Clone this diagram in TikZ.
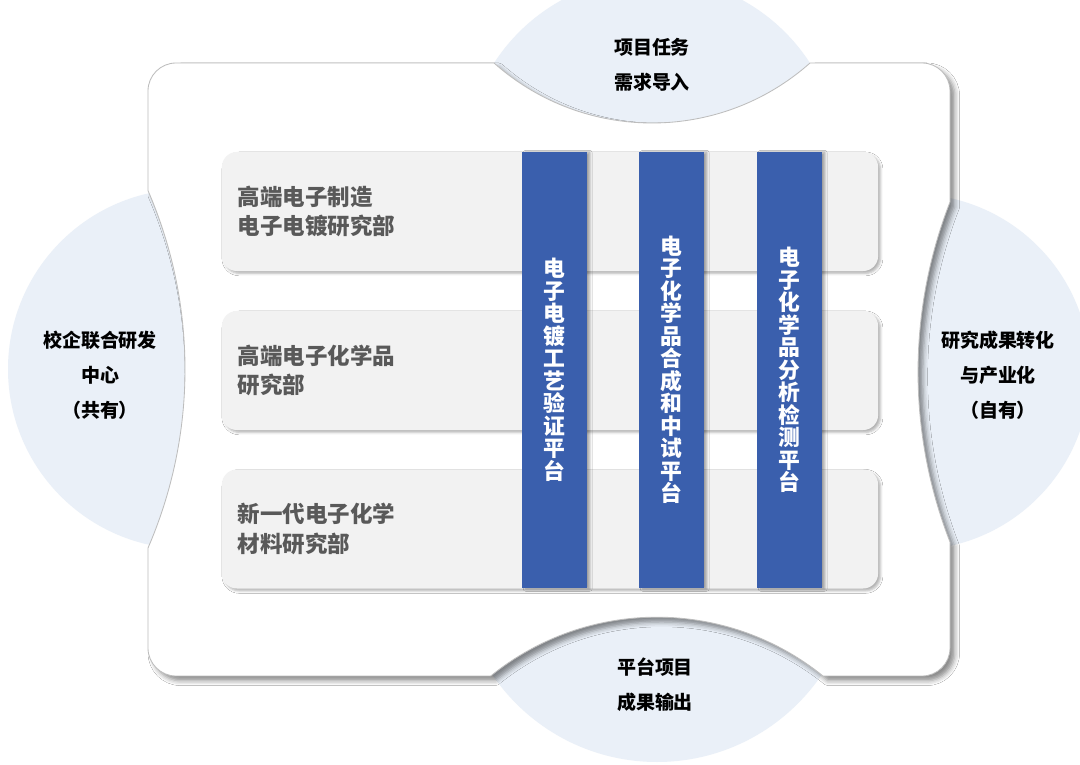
\documentclass[tikz,border=0pt]{standalone}
\usepackage{fontspec}
\setmainfont{Noto Sans CJK SC}
\usetikzlibrary{shadows.blur}

\definecolor{circfill}{HTML}{EAF0F8}
\definecolor{colblue}{HTML}{3A5FAD}
\definecolor{rowgray}{HTML}{F2F2F2}
\definecolor{rowtext}{HTML}{595959}
\definecolor{edgegray}{HTML}{BDBDBD}

\tikzset{
    rowbox/.style={fill=rowgray, rounded corners=0.375cm, minimum width=16.4cm, minimum height=2.975cm,
        text width=15.6cm, inner xsep=0.4cm, align=left, text=rowtext, font=\fontsize{16}{21}\selectfont\bfseries,
        blur shadow={shadow xshift=0.06cm, shadow yshift=-0.06cm, shadow blur radius=0.06cm, shadow opacity=30}},
    colbox/.style={fill=colblue, minimum width=1.6cm, minimum height=10.9cm, inner sep=0pt, align=center,
        text=white, font=\fontsize{15.5}{16}\selectfont\bfseries,
        blur shadow={shadow xshift=0.08cm, shadow yshift=-0.02cm, shadow blur radius=0.06cm, shadow opacity=35}},
    circtext/.style={align=center, font=\fontsize{13.5}{25}\selectfont\bfseries}
}

\begin{document}
\begin{tikzpicture}[x=0.025cm, y=0.025cm]
    \useasboundingbox (0,0) rectangle (1080,764);
    \fill[white] (0,0) rectangle (1080,764);

    % light blue discs behind the frame
    \fill[circfill] (652,599) circle[radius=188];
    \fill[circfill] (657,201) circle[radius=199];
    \fill[circfill] (188,395) circle[radius=180];
    \fill[circfill] (912,392) circle[radius=178];

    % white frame with the four notches
    \fill[white, draw=edgegray, line width=0.6pt,
        blur shadow={shadow xshift=0.12cm, shadow yshift=-0.12cm, shadow blur radius=0.12cm, shadow opacity=45}]
        (176,701) -- (494,701) arc[start angle=228.4, end angle=311.6, radius=238]
        -- (922,701) arc[start angle=90, end angle=0, radius=28]
        -- (950,562) arc[start angle=158.7, end angle=201.3, radius=468]
        -- (950,116) arc[start angle=0, end angle=-90, radius=28]
        -- (823,88) arc[start angle=51, end angle=129, radius=264]
        -- (176,88) arc[start angle=270, end angle=180, radius=28]
        -- (148,216) arc[start angle=-23.4, end angle=23.4, radius=450]
        -- (148,673) arc[start angle=180, end angle=90, radius=28] -- cycle;

    \node[rowbox] (r1) at (550,552.5) {高端电子制造\\电子电镀研究部};
    \node[rowbox] (r2) at (550,393.5) {高端电子化学品\\研究部};
    \node[rowbox] (r3) at (550,235) {新一代电子化学\\材料研究部};

    \node[colbox] (c1) at (554.5,394) {电\\子\\电\\镀\\工\\艺\\验\\证\\平\\台};
    \node[colbox] (c2) at (671.5,394) {电\\子\\化\\学\\品\\合\\成\\和\\中\\试\\平\\台};
    \node[colbox] (c3) at (789.5,394) {电\\子\\化\\学\\品\\分\\析\\检\\测\\平\\台};

    \node[circtext] (ttop) at (652,699) {项目任务\\需求导入};
    \node[circtext] (tbot) at (655,79) {平台项目\\成果输出};
    \node[circtext] (tlft) at (100,389) {校企联合研发\\中心\\（共有）};
    \node[circtext] (trgt) at (998,389) {研究成果转化\\与产业化\\（自有）};
\end{tikzpicture}
\end{document}
